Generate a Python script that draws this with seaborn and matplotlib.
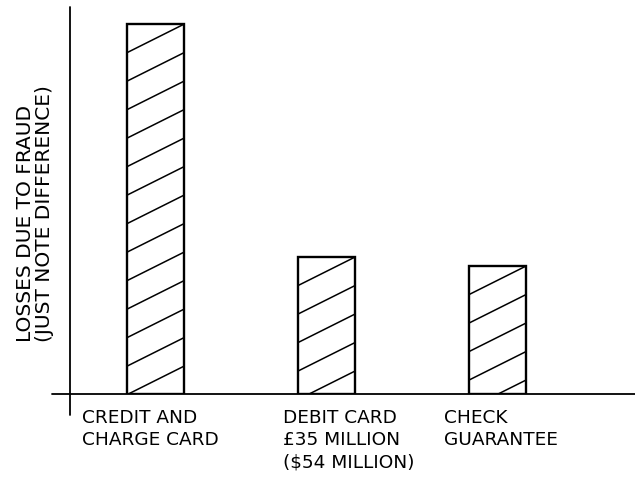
import numpy as np
import matplotlib
matplotlib.use("Agg")
import matplotlib.pyplot as plt
from matplotlib.lines import Line2D
from matplotlib.transforms import IdentityTransform
import seaborn as sns

# Fraud losses by card scheme (millions of pounds)
categories = ["CREDIT AND\nCHARGE CARD",
              "DEBIT CARD\n£35 MILLION\n($54 MILLION)",
              "CHECK\nGUARANTEE"]
losses = [94.5, 35.0, 32.7]
y_label = "LOSSES DUE TO FRAUD\n(JUST NOTE DIFFERENCE)"

sns.set_theme(style="white")
plt.rcParams["font.family"] = ["DejaVu Sans"]

W, H = 635, 478
fig = plt.figure(figsize=(W / 100, H / 100), dpi=100)
ax = fig.add_axes([70 / W, (H - 394) / H, 565 / W, 387 / H])

sns.barplot(x=categories, y=losses, color="white", saturation=1,
            edgecolor="black", linewidth=1.7, width=0.335, ax=ax, zorder=3)

ax.set_xlim(-0.5, -0.5 + 565 / 171)
ax.set_ylim(0, 35 * 387 / 137)
for s in ax.spines.values():
    s.set_visible(False)
ax.set_xticks([])
ax.set_yticks([])
ax.set_xlabel("")
ax.set_ylabel("")

# Axis lines, crossing slightly past the origin
ax.plot([-18 / 565, 1], [0, 0], transform=ax.transAxes, color="black",
        lw=1.3, clip_on=False, zorder=4)
ax.plot([0, 0], [-21 / 387, 1], transform=ax.transAxes, color="black",
        lw=1.3, clip_on=False, zorder=4)

# Shallow diagonal hatching inside each bar, clipped to the bar outline
fig.canvas.draw()
slope, step = 0.5, 28.5
for patch in ax.patches:
    bb = patch.get_window_extent()
    x0, x1, y0, y1 = bb.x0, bb.x1, bb.y0, bb.y1
    w = x1 - x0
    # lines anchored at the top-right corner, stepping downward
    c = y1
    while c > y0 - slope * w - step:
        ln = Line2D([x0 - 5, x1 + 5],
                    [c - slope * (w + 5), c + slope * 5],
                    transform=IdentityTransform(), color="black", lw=1.1,
                    zorder=4)
        ln.set_clip_path(patch)
        fig.add_artist(ln)
        c -= step

# Category captions, left aligned beneath the baseline
offsets = [-73.5, -43.5, -53.5]
for i, (lab, dx) in enumerate(zip(categories, offsets)):
    ax.annotate(lab, xy=(i, 0), xycoords=("data", "data"),
                xytext=(dx, -15), textcoords="offset pixels",
                ha="left", va="top", fontsize=13.3, linespacing=1.32,
                color="black", annotation_clip=False)

fig.text(35 / W, (H - 342) / H, y_label, rotation=90, ha="center",
         va="bottom", multialignment="left", fontsize=14.5, linespacing=1.02,
         color="black")

fig.savefig("out.png", dpi=100, facecolor="white")
